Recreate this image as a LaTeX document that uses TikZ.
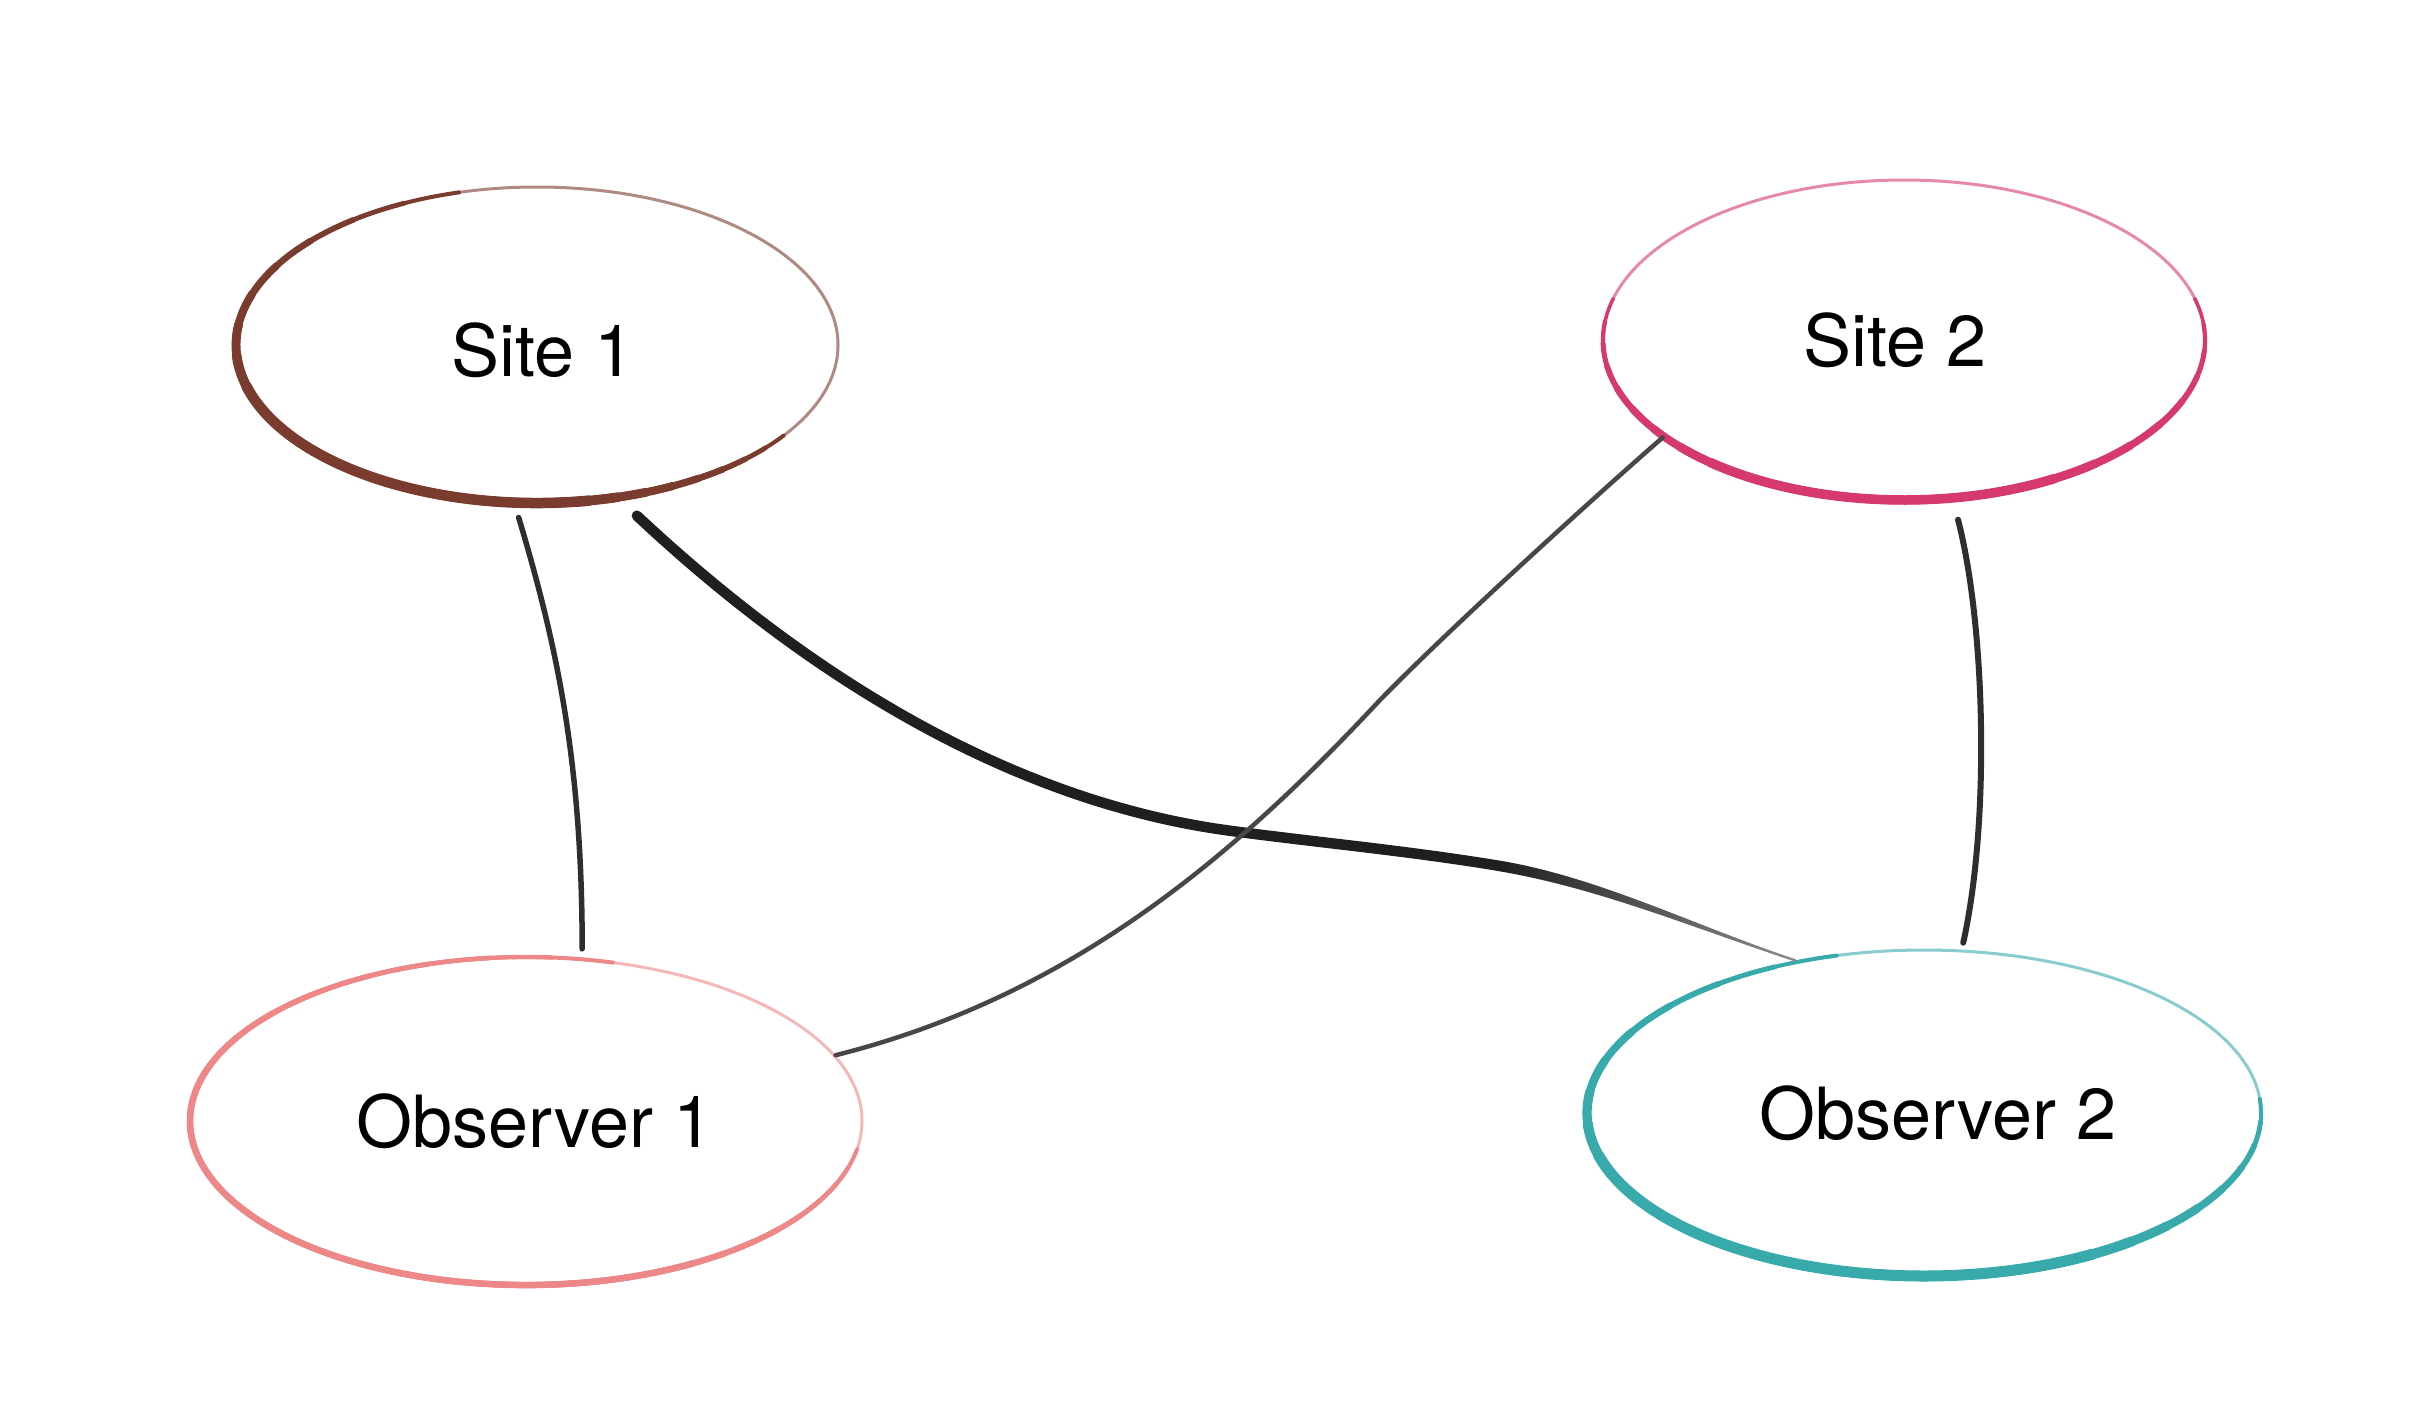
\documentclass[tikz,border=0pt]{standalone}
\usepackage{fontspec}
\setmainfont{TeX Gyre Heros}
\usetikzlibrary{shapes.geometric,calc}

\definecolor{siteone}{RGB}{122,60,46}
\definecolor{sitetwo}{RGB}{214,58,108}
\definecolor{obsone}{RGB}{238,136,136}
\definecolor{obstwo}{RGB}{56,170,172}

\tikzset{every picture/.style={line width=0.75pt}}
\tikzset{
  place/.style={ellipse, draw=#1!60, line width=3pt, inner sep=0pt},
  tag/.style={font=\fontsize{72}{86}\selectfont},
  rim/.style={line cap=round},
  link/.style={draw=black!82, line width=5.5pt, line cap=round},
}

\begin{document}
\begin{tikzpicture}[x=1pt,y=1pt,yscale=-1,xscale=1]
	\useasboundingbox (0,0) rectangle (2414,1417);

	% Ellipse nodes
	\node[place=siteone, minimum width=602pt, minimum height=316pt, label={[tag, xshift=6pt, yshift=-5pt]center:Site 1}] (site1) at (537,345) {};
	\node[place=sitetwo, minimum width=602pt, minimum height=320pt, label={[tag, xshift=-9pt]center:Site 2}] (site2) at (1904,340) {};
	\node[place=obsone, minimum width=672pt, minimum height=328pt, label={[tag, xshift=9pt]center:Observer 1}] (obs1) at (526,1121) {};
	\node[place=obstwo, minimum width=674pt, minimum height=326pt, label={[tag, xshift=14pt]center:Observer 2}] (obs2) at (1924,1113) {};

	% Heavier parts of the rims
	\foreach \k [evaluate=\k as \s using 35+45*\k/8, evaluate=\k as \e using 255-90*\k/8, evaluate=\k as \w using 4+6.5*\k/8] in {0,...,8}
		\draw[rim, siteone, line width=\w pt] ($(site1.center)+(\s:301 and 158)$) arc[start angle=\s, end angle=\e, x radius=301, y radius=158];
	\foreach \k [evaluate=\k as \s using -15+75*\k/8, evaluate=\k as \e using 195-65*\k/8, evaluate=\k as \w using 3.5+6*\k/8] in {0,...,8}
		\draw[rim, sitetwo, line width=\w pt] ($(site2.center)+(\s:301 and 160)$) arc[start angle=\s, end angle=\e, x radius=301, y radius=160];
	\foreach \k [evaluate=\k as \s using 10+50*\k/8, evaluate=\k as \e using 285-85*\k/8, evaluate=\k as \w using 4+2.5*\k/8] in {0,...,8}
		\draw[rim, obsone, line width=\w pt] ($(obs1.center)+(\s:336 and 164)$) arc[start angle=\s, end angle=\e, x radius=336, y radius=164];
	\foreach \k [evaluate=\k as \s using -5+65*\k/8, evaluate=\k as \e using 255-90*\k/8, evaluate=\k as \w using 4+7*\k/8] in {0,...,8}
		\draw[rim, obstwo, line width=\w pt] ($(obs2.center)+(\s:337 and 163)$) arc[start angle=\s, end angle=\e, x radius=337, y radius=163];

	% Bend points
	\coordinate (sag) at (1232,831);
	\coordinate (taper) at (1500,866);
	\coordinate (cross) at (1380,700);

	%Curve Lines
	\draw[link, shorten <=14pt, shorten >=9pt] (site1.-98) .. controls +(41,137) and +(0,-199) .. (obs1.71);
	%Curve Lines
	\draw[link, line width=10.5pt, black!88, shorten <=25pt] (site1.-62) .. controls +(190,178) and +(-220,-29) .. (sag) .. controls +(90,12) and +(-90,-15) .. (taper);
	\shade[left color=black!88, right color=black!45] ($(taper)+(0.9,-5.2)$) .. controls +(100,17) and +(-100,-33) .. ($(obs2.130)+(0.4,-1.1)$) -- ($(obs2.130)+(-0.4,1.1)$) .. controls +(-100,-33) and +(100,17) .. ($(taper)+(-0.9,5.2)$) -- cycle;
	%Curve Lines
	\draw[link, line width=4.5pt, black!72] (site2.-158) .. controls +(-60,52) and +(70,-72) .. (cross) .. controls +(-140,150) and +(240,-60) .. (obs1.12);
	%Curve Lines
	\draw[link, line width=6pt, shorten <=21pt, shorten >=7pt] (site2.-73) .. controls +(32,123) and +(29,-131) .. (obs2.77);

\end{tikzpicture}
\end{document}
